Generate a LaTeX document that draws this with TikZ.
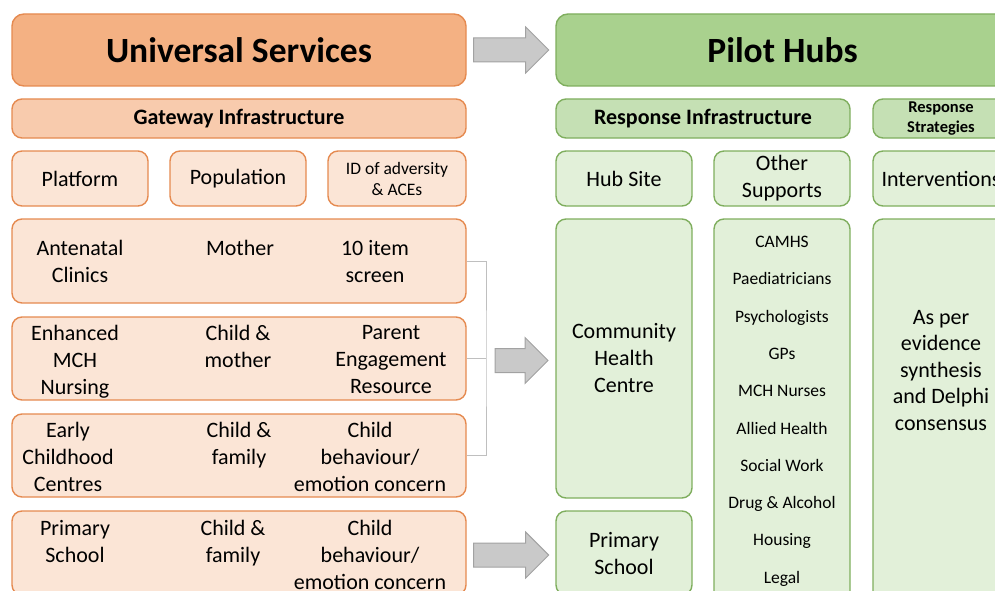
\documentclass[tikz,border=0pt]{standalone}
\usepackage{fontspec}
\setmainfont{Carlito}
\usetikzlibrary{calc}

\definecolor{orgtitle}{HTML}{F4B183}
\definecolor{orgmid}{HTML}{F8CBAD}
\definecolor{orglight}{HTML}{FBE5D6}
\definecolor{orgline}{HTML}{E58A50}
\definecolor{grntitle}{HTML}{A9D18E}
\definecolor{grnmid}{HTML}{C5E0B4}
\definecolor{grnlight}{HTML}{E2F0D9}
\definecolor{grnline}{HTML}{7FAE5E}
\definecolor{arrfill}{HTML}{C9C9C9}
\definecolor{arrline}{HTML}{A2A2A2}

\tikzset{
  box/.style={draw, rounded corners=10pt, line width=1.4pt, inner sep=0pt, align=center,
    font=\fontsize{22}{27}\selectfont},
  titlebox/.style={box, rounded corners=12pt, font=\fontsize{35.5}{40}\selectfont\bfseries},
  headbox/.style={box, font=\fontsize{22}{27}\selectfont\bfseries},
  uscol/.style={draw=orgline, fill=#1},
  phcol/.style={draw=grnline, fill=#1},
  txt/.style={anchor=north, inner sep=0pt, align=center, font=\fontsize{22}{27}\selectfont},
  blockarr/.style={draw=arrline, fill=arrfill, line width=1pt, line join=miter},
  bracket/.style={draw=black!25, line width=1pt}
}

\newcommand{\blockarrow}[2]{%
  \draw[blockarr] (#1) ++(0,-12) -- ++(#2,0) -- ++(0,-11) -- ++(23,23)
    -- ++(-23,23) -- ++(0,-11) -- ++(-#2,0) -- cycle;}

\begin{document}
\begin{tikzpicture}[x=1pt,y=-1pt]
  \useasboundingbox (0,0) rectangle (995,591);
  \clip (0,0) rectangle (995,591);

  % universal services side
  \node [titlebox,uscol=orgtitle,minimum width=454pt,minimum height=72pt](us)at(239,50){Universal Services};
  \node [headbox,uscol=orgmid,minimum width=454pt,minimum height=39pt](gi)at(239,118.5){\raisebox{-2pt}{Gateway Infrastructure}};
  \node [box,uscol=orglight,minimum width=136pt,minimum height=55pt](platform)at(80,178.5){Platform};
  \node [box,uscol=orglight,minimum width=136pt,minimum height=55pt](population)at(238,178.5){Population};
  \node [box,uscol=orglight,minimum width=138pt,minimum height=55pt,font=\fontsize{17.5}{21}\selectfont](idadv)at(397,178.5){ID of adversity\\\& ACEs};

  \node [box,uscol=orglight,minimum width=454pt,minimum height=84pt](antenatal)at(239,261){};
  \node [box,uscol=orglight,minimum width=454pt,minimum height=83pt](mch)at(239,358.5){};
  \node [box,uscol=orglight,minimum width=454pt,minimum height=83pt](ecc)at(239,455.5){};
  \node [box,uscol=orglight,minimum width=454pt,minimum height=84pt](school)at(239,553){};

  \node [txt](antenatal-a)at(80,240){Antenatal\\Clinics};
  \node [txt](antenatal-b)at(240,240){Mother};
  \node [txt](antenatal-c)at(375,240){10 item\\screen};
  \node [txt](mch-a)at(75,325){Enhanced\\MCH\\Nursing};
  \node [txt](mch-b)at(238,325){Child \&\\mother};
  \node [txt](mch-c)at(391,325){Parent\\Engagement\\Resource};
  \node [txt](ecc-a)at(68,422){Early\\Childhood\\Centres};
  \node [txt](ecc-b)at(239,422){Child \&\\family};
  \node [txt](ecc-c)at(370,422){Child\\behaviour/\\emotion concern};
  \node [txt](school-a)at(75,520){Primary\\School};
  \node [txt](school-b)at(233,520){Child \&\\family};
  \node [txt](school-c)at(370,520){Child\\behaviour/\\emotion concern};

  % pilot hubs side
  \node [titlebox,phcol=grntitle,minimum width=453pt,minimum height=72pt](ph)at(782.5,50){Pilot Hubs};
  \node [headbox,phcol=grnmid,minimum width=294pt,minimum height=39pt](ri)at(703,118.5){\raisebox{-2pt}{Response Infrastructure}};
  \node [headbox,phcol=grnmid,minimum width=136pt,minimum height=39pt,font=\fontsize{16.5}{19.5}\selectfont\bfseries](rs)at(941,118.5){Response\\Strategies};
  \node [box,phcol=grnlight,minimum width=136pt,minimum height=55pt](hubsite)at(624,178.5){Hub Site};
  \node [box,phcol=grnlight,minimum width=136pt,minimum height=55pt](others)at(782,178.5){Other\\Supports};
  \node [box,phcol=grnlight,minimum width=136pt,minimum height=55pt](interv)at(941,178.5){Interventions};

  \node [box,phcol=grnlight,minimum width=136pt,minimum height=279pt](chc)at(624,358.5){Community\\Health\\Centre};
  \node [box,phcol=grnlight,minimum width=136pt,minimum height=84pt](psite)at(624,553){Primary\\School};
  \node [box,phcol=grnlight,minimum width=136pt,minimum height=390pt](supports)at(782,414){};
  \node [box,phcol=grnlight,minimum width=136pt,minimum height=390pt](evidence)at(941,414){};

  \node [txt,font=\fontsize{17.5}{37.3}\selectfont](supports-list)at(782,236){CAMHS\\Paediatricians\\Psychologists\\GPs\\MCH Nurses\\Allied Health\\Social Work\\Drug \& Alcohol\\Housing\\Legal};
  \node [txt,font=\fontsize{22}{26.5}\selectfont](evidence-text)at(941,310){As per\\evidence\\synthesis\\and Delphi\\consensus};

  % connectors
  \coordinate (brk) at (486,358.5);
  \draw [bracket] (antenatal.east) -| (brk) |- (ecc.east);
  \draw [bracket] (mch.east) -- (brk);

  \blockarrow{$(us.east)+(7,0)$}{52}
  \blockarrow{$(brk)+(9,2)$}{30}
  \blockarrow{$(school.east)+(7,2)$}{52}
\end{tikzpicture}
\end{document}
